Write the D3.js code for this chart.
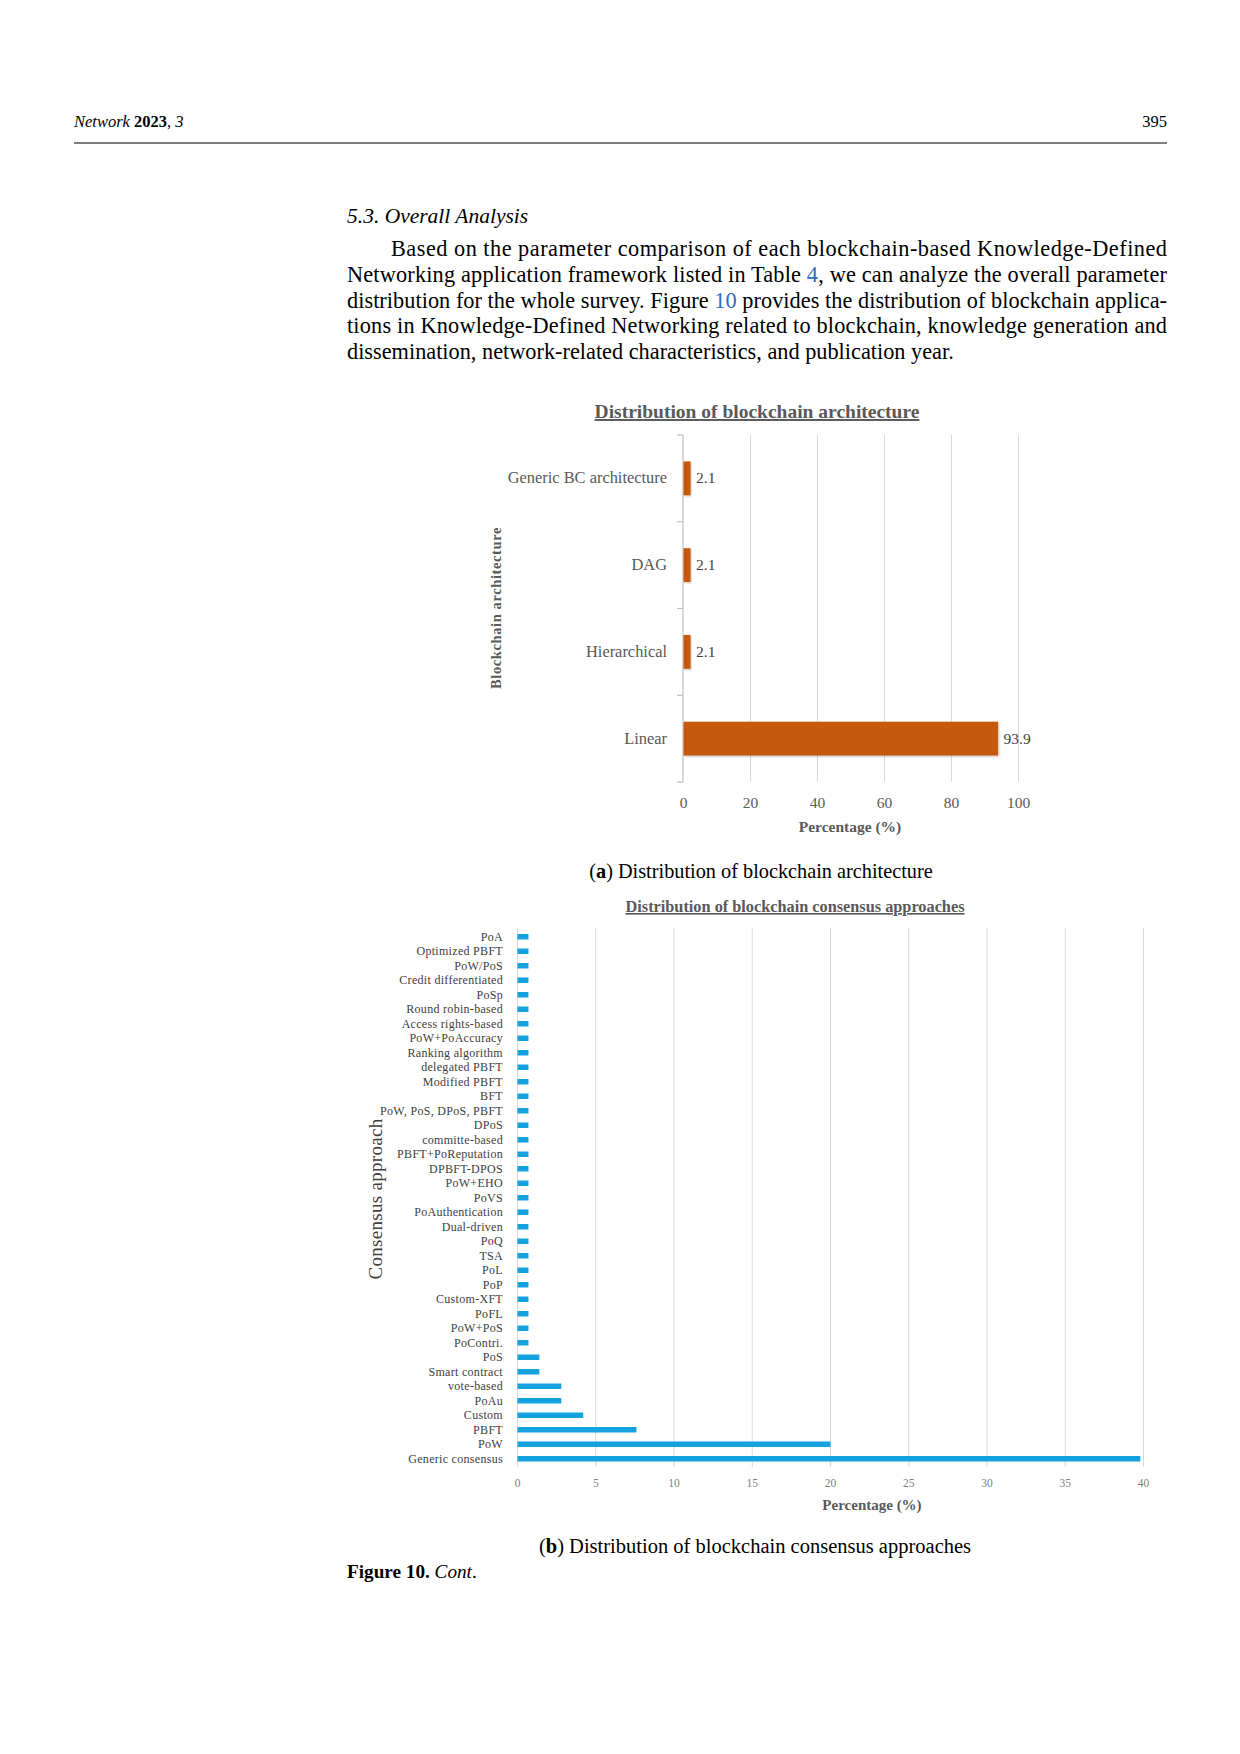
<!DOCTYPE html>
<html>
<head>
<meta charset="utf-8">
<script src="https://cdn.jsdelivr.net/npm/d3@7"></script>
<style>
  body { margin: 0; background: #fff; }
  svg text { font-family: 'Liberation Serif', 'DejaVu Serif', serif; }
</style>
</head>
<body>
<div id="pagina"></div>
<script>
// ---- datos de la figura (a) ----
const archCats  = ['Generic BC architecture', 'DAG', 'Hierarchical', 'Linear']
const archVals  = [2.1, 2.1, 2.1, 93.9]
const archTicks = [0, 20, 40, 60, 80, 100]

// ---- datos de la figura (b), de arriba hacia abajo ----
const consCats = ['PoA', 'Optimized PBFT', 'PoW/PoS', 'Credit differentiated', 'PoSp',
  'Round robin-based', 'Access rights-based', 'PoW+PoAccuracy', 'Ranking algorithm',
  'delegated PBFT', 'Modified PBFT', 'BFT', 'PoW, PoS, DPoS, PBFT', 'DPoS', 'committe-based',
  'PBFT+PoReputation', 'DPBFT-DPOS', 'PoW+EHO', 'PoVS', 'PoAuthentication', 'Dual-driven',
  'PoQ', 'TSA', 'PoL', 'PoP', 'Custom-XFT', 'PoFL', 'PoW+PoS', 'PoContri.', 'PoS',
  'Smart contract', 'vote-based', 'PoAu', 'Custom', 'PBFT', 'PoW', 'Generic consensus']
const consVals = [0.7, 0.7, 0.7, 0.7, 0.7, 0.7, 0.7, 0.7, 0.7, 0.7, 0.7, 0.7, 0.7, 0.7, 0.7,
  0.7, 0.7, 0.7, 0.7, 0.7, 0.7, 0.7, 0.7, 0.7, 0.7, 0.7, 0.7, 0.7, 0.7, 1.4,
  1.4, 2.8, 2.8, 4.2, 7.6, 20.0, 39.8]
const consTicks = [0, 5, 10, 15, 20, 25, 30, 35, 40]

// ---- texto de la pagina ----
const parrafo = [
  [['Based on the parameter comparison of each blockchain-based Knowledge-Defined', 0]],
  [['Networking application framework listed in Table ', 0], ['4', 1], [', we can analyze the overall parameter', 0]],
  [['distribution for the whole survey. Figure ', 0], ['10', 1], [' provides the distribution of blockchain applica-', 0]],
  [['tions in Knowledge-Defined Networking related to blockchain, knowledge generation and', 0]],
  [['dissemination, network-related characteristics, and publication year.', 0]]
]

const margenIzq = 347
const margenDer = 1167

const svg = d3.select('#pagina').append('svg')
  .attr('width', 1240).attr('height', 1754)

const defs = svg.append('defs')
defs.append('filter').attr('id', 'sombra')
  .attr('x', '-10%').attr('y', '-20%').attr('width', '130%').attr('height', '150%')
  .append('feDropShadow')
  .attr('dx', 1).attr('dy', 1).attr('stdDeviation', 1)
  .attr('flood-color', '#000').attr('flood-opacity', 0.25)

/******** ENCABEZADO *************/
const cab = svg.append('text').attr('x', 74).attr('y', 127).attr('font-size', 16.5).attr('fill', '#000')
cab.append('tspan').attr('font-style', 'italic').text('Network ')
cab.append('tspan').attr('font-weight', 'bold').text('2023')
cab.append('tspan').text(', ')
cab.append('tspan').attr('font-style', 'italic').text('3')
svg.append('text').attr('x', margenDer).attr('y', 127).attr('font-size', 16.5)
  .attr('text-anchor', 'end').text('395')
svg.append('line').attr('x1', 74).attr('x2', margenDer).attr('y1', 143).attr('y2', 143)
  .attr('stroke', '#000').attr('stroke-width', 1.2)

svg.append('text').attr('x', margenIzq).attr('y', 223).attr('font-size', 21.5)
  .attr('font-style', 'italic').text('5.3. Overall Analysis')

parrafo.forEach((linea, i) => {
  const x0 = i === 0 ? 391 : margenIzq
  const t = svg.append('text').attr('x', x0).attr('y', 256 + i * 25.8).attr('font-size', 22.3)
  linea.forEach(p => {
    t.append('tspan').attr('fill', p[1] ? '#2b6cb8' : '#000').text(p[0])
  })
  if (i < parrafo.length - 1) {
    t.attr('textLength', margenDer - x0).attr('lengthAdjust', 'spacing')
  }
})

/******** GRAFICA (a) *************/
const gA = svg.append('g')
const xA = d3.scaleLinear().domain([0, 100]).range([683, 1018])
const yA = d3.scaleBand().domain(archCats).range([435, 782]).paddingInner(0.61).paddingOuter(0.305)

gA.append('text').attr('x', 757).attr('y', 418).attr('text-anchor', 'middle')
  .attr('font-size', 19.5).attr('font-weight', 'bold').attr('fill', '#595959')
  .style('text-decoration', 'underline')
  .text('Distribution of blockchain architecture')

// rejilla y etiquetas del eje x
const ejeXA = gA.append('g').attr('transform', 'translate(0,435)')
  .call(d3.axisBottom(xA).tickValues(archTicks).tickSize(782 - 435).tickPadding(0))
ejeXA.select('.domain').remove()
ejeXA.selectAll('.tick line').attr('stroke', d => d === 0 ? 'none' : '#d9d9d9')
ejeXA.selectAll('.tick text').attr('y', 808 - 435).attr('dy', 0)
  .attr('font-size', 15.5).attr('fill', '#595959')
  .attr('font-family', "'Liberation Serif', serif")

// eje y con marcas entre categorias
gA.append('line').attr('x1', xA(0)).attr('x2', xA(0)).attr('y1', 435).attr('y2', 782)
  .attr('stroke', '#bfbfbf').attr('stroke-width', 1.2)
gA.selectAll('.marcaY').data(d3.range(archCats.length + 1)).join('line')
  .attr('class', 'marcaY')
  .attr('x1', xA(0) - 6).attr('x2', xA(0))
  .attr('y1', i => yA.range()[0] + i * yA.step())
  .attr('y2', i => yA.range()[0] + i * yA.step())
  .attr('stroke', '#bfbfbf').attr('stroke-width', 1.2)

gA.selectAll('.barA').data(archCats).join('rect')
  .attr('class', 'barA')
  .attr('x', xA(0) + 0.5)
  .attr('y', d => yA(d))
  .attr('width', (d, i) => xA(archVals[i]) - xA(0))
  .attr('height', yA.bandwidth())
  .attr('fill', '#c55a11')
  .attr('filter', 'url(#sombra)')

gA.selectAll('.valA').data(archCats).join('text')
  .attr('class', 'valA')
  .attr('x', (d, i) => xA(archVals[i]) + 6)
  .attr('y', d => yA(d) + yA.bandwidth() / 2 + 5)
  .attr('font-size', 15.5).attr('fill', '#404040')
  .text((d, i) => archVals[i])

gA.selectAll('.catA').data(archCats).join('text')
  .attr('class', 'catA')
  .attr('x', 667)
  .attr('y', d => yA(d) + yA.bandwidth() / 2 + 5)
  .attr('text-anchor', 'end')
  .attr('font-size', 16.4).attr('fill', '#595959')
  .text(d => d)

gA.append('text').attr('x', 850).attr('y', 832).attr('text-anchor', 'middle')
  .attr('font-size', 15.5).attr('font-weight', 'bold').attr('fill', '#595959')
  .text('Percentage (%)')

gA.append('text').attr('transform', 'translate(501,608) rotate(-90)')
  .attr('text-anchor', 'middle')
  .attr('font-size', 14.5).attr('font-weight', 'bold').attr('fill', '#595959')
  .attr('letter-spacing', 0.6)
  .text('Blockchain architecture')

const capA = svg.append('text').attr('x', 761).attr('y', 878).attr('text-anchor', 'middle')
  .attr('font-size', 20.3)
capA.append('tspan').text('(')
capA.append('tspan').attr('font-weight', 'bold').text('a')
capA.append('tspan').text(') Distribution of blockchain architecture')

/******** GRAFICA (b) *************/
const gB = svg.append('g')
const xB = d3.scaleLinear().domain([0, 40]).range([517, 1143])
const yB = d3.scaleBand().domain(consCats).range([929.5, 1466]).paddingInner(0.62).paddingOuter(0.31)

gB.append('text').attr('x', 795).attr('y', 912).attr('text-anchor', 'middle')
  .attr('font-size', 16.3).attr('font-weight', 'bold').attr('fill', '#595959')
  .style('text-decoration', 'underline')
  .text('Distribution of blockchain consensus approaches')

const ejeXB = gB.append('g').attr('transform', 'translate(0,928)')
  .call(d3.axisBottom(xB).tickValues(consTicks).tickSize(1467 - 928).tickPadding(0))
ejeXB.select('.domain').remove()
ejeXB.selectAll('.tick line').attr('stroke', '#d9d9d9')
ejeXB.selectAll('.tick text').attr('y', 1487 - 928).attr('dy', 0)
  .attr('font-size', 11.5).attr('fill', '#7f7f7f')
  .attr('font-family', "'Liberation Serif', serif")

gB.selectAll('.barB').data(consCats).join('rect')
  .attr('class', 'barB')
  .attr('x', xB(0) + 0.5)
  .attr('y', d => yB(d))
  .attr('width', (d, i) => xB(consVals[i]) - xB(0))
  .attr('height', yB.bandwidth())
  .attr('fill', '#14a3de')

gB.selectAll('.catB').data(consCats).join('text')
  .attr('class', 'catB')
  .attr('x', 503)
  .attr('y', d => yB(d) + yB.bandwidth() / 2 + 4)
  .attr('text-anchor', 'end')
  .attr('font-size', 12).attr('fill', '#404040')
  .attr('letter-spacing', 0.3)
  .text(d => d)

gB.append('text').attr('x', 872).attr('y', 1510).attr('text-anchor', 'middle')
  .attr('font-size', 15).attr('font-weight', 'bold').attr('fill', '#595959')
  .text('Percentage (%)')

gB.append('text').attr('transform', 'translate(382,1199) rotate(-90)')
  .attr('text-anchor', 'middle')
  .attr('font-size', 19).attr('fill', '#404040')
  .attr('letter-spacing', 0.3)
  .text('Consensus approach')

const capB = svg.append('text').attr('x', 755).attr('y', 1553).attr('text-anchor', 'middle')
  .attr('font-size', 20.5)
capB.append('tspan').text('(')
capB.append('tspan').attr('font-weight', 'bold').text('b')
capB.append('tspan').text(') Distribution of blockchain consensus approaches')

const fig = svg.append('text').attr('x', margenIzq).attr('y', 1578).attr('font-size', 19.2)
fig.append('tspan').attr('font-weight', 'bold').text('Figure 10. ')
fig.append('tspan').attr('font-style', 'italic').text('Cont')
fig.append('tspan').text('.')
</script>
</body>
</html>
